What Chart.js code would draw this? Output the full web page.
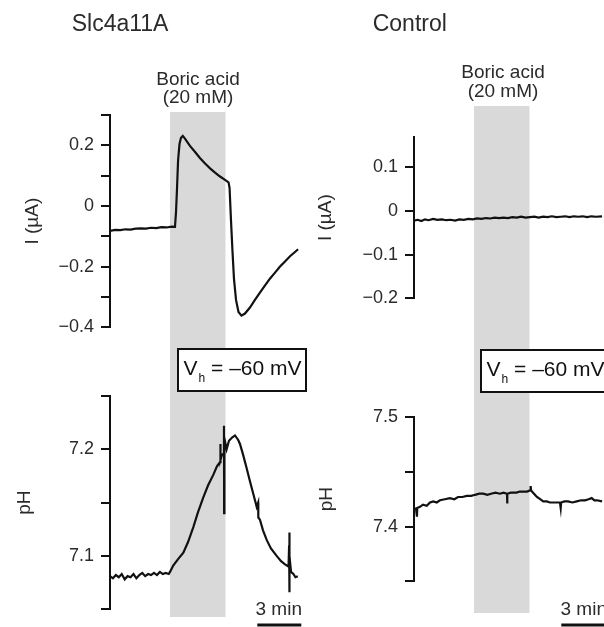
<!DOCTYPE html>
<html><head><meta charset="utf-8">
<script src="https://cdn.jsdelivr.net/npm/chart.js@4.4.1/dist/chart.umd.min.js"></script>
<style>
html,body{margin:0;padding:0;overflow:hidden;background:#fff;width:604px;height:627px;}
#fig{position:relative;width:604px;height:627px;overflow:hidden;font-family:'Liberation Sans',Arial,sans-serif;color:#2b2b2b;}
canvas{position:absolute;}
.t{position:absolute;white-space:nowrap;line-height:1;}
.c{text-align:center;width:140px;}
.box{position:absolute;box-sizing:border-box;border:2.5px solid #111;background:#fff;width:130px;height:44px;}
</style></head><body>
<div id="fig">
<canvas id="aTop" width="310" height="345" style="left:0;top:0"></canvas>
<canvas id="aBot" width="310" height="282" style="left:0;top:345px"></canvas>
<canvas id="bTop" width="310" height="345" style="left:300px;top:0"></canvas>
<canvas id="bBot" width="310" height="282" style="left:300px;top:345px"></canvas>

<div class="t" style="left:71.7px;top:12.2px;font-size:23px">Slc4a11A</div>
<div class="t" style="left:372.7px;top:12.2px;font-size:23px">Control</div>

<div class="t c" style="left:128px;top:68.9px;font-size:19px">Boric acid</div>
<div class="t c" style="left:128px;top:86.6px;font-size:19px">(20 mM)</div>
<div class="t c" style="left:433px;top:62.4px;font-size:19px">Boric acid</div>
<div class="t c" style="left:433px;top:80.9px;font-size:19px">(20 mM)</div>

<div class="box" style="left:177px;top:348px"></div>
<div class="t" style="left:183.5px;top:357.2px;font-size:21px;color:#111">V<span style="font-size:12px;position:relative;top:7px;margin-left:1px">h</span> = –60 mV</div>
<div class="box" style="left:480px;top:349px"></div>
<div class="t" style="left:486.5px;top:358px;font-size:21px;color:#111">V<span style="font-size:12px;position:relative;top:7px;margin-left:1px">h</span> = –60 mV</div>

<div class="t" style="left:255.5px;top:598.9px;font-size:19px">3 min</div>
<div class="t" style="left:560.5px;top:598.9px;font-size:19px">3 min</div>
</div>
<script>
// ---- data (time in minutes) ----
const tMax = 13.1;
const boricAcid = [4.09, 7.87];          // application window (min)
const scaleBar = [10.04, 13.04];         // 3 min scale bar

// Slc4a11A current (µA)
const aCurT = [0,0.35,0.7,1.05,1.4,1.75,2.1,2.45,2.8,3.15,3.5,3.85,4.2,4.43,4.5,4.57,4.64,4.74,4.84,4.96,5.11,5.45,5.8,6.13,6.48,6.82,7.16,7.5,7.84,8.08,8.15,8.25,8.35,8.45,8.59,8.76,8.96,9.2,9.54,9.88,10.22,10.57,10.9,11.25,11.59,11.93,12.27,12.61,12.82];
const aCurI = [-0.082,-0.079,-0.080,-0.077,-0.078,-0.075,-0.074,-0.075,-0.072,-0.073,-0.070,-0.071,-0.068,-0.069,-0.02,0.06,0.15,0.205,0.225,0.231,0.222,0.198,0.178,0.158,0.14,0.124,0.11,0.097,0.086,0.078,0.06,-0.05,-0.15,-0.24,-0.31,-0.35,-0.362,-0.355,-0.335,-0.31,-0.286,-0.262,-0.24,-0.22,-0.2,-0.183,-0.166,-0.152,-0.143];

// Control current (µA)
const bCurT = [0,0.25,0.5,0.75,1.0,1.3,1.6,1.9,2.2,2.5,2.8,3.1,3.4,3.7,4.0,4.3,4.6,4.9,5.2,5.5,5.8,6.1,6.4,6.7,7.0,7.3,7.6,7.9,8.2,8.5,8.8,9.1,9.4,9.7,10.0,10.3,10.6,10.9,11.2,11.5,11.8,12.1,12.4,12.82];
const bCurI = [-0.022,-0.020,-0.023,-0.019,-0.021,-0.018,-0.020,-0.019,-0.021,-0.020,-0.022,-0.019,-0.020,-0.018,-0.019,-0.017,-0.018,-0.016,-0.017,-0.015,-0.016,-0.015,-0.016,-0.014,-0.015,-0.013,-0.015,-0.014,-0.013,-0.015,-0.013,-0.014,-0.012,-0.014,-0.013,-0.012,-0.014,-0.012,-0.013,-0.012,-0.014,-0.012,-0.013,-0.012];

// Slc4a11A pH
const aPhT = [0,0.2,0.4,0.6,0.8,1.0,1.2,1.4,1.6,1.8,2.0,2.2,2.4,2.6,2.8,3.0,3.2,3.4,3.6,3.8,4.0,4.09,4.31,4.64,5.0,5.32,5.68,6.0,6.36,6.68,7.04,7.29,7.5,7.52,7.54,7.63,7.76,7.77,7.78,7.8,7.95,8.11,8.32,8.52,8.73,8.86,9.07,9.32,9.54,9.77,10.0,10.1,10.11,10.22,10.43,10.68,10.97,11.36,11.66,11.93,12.17,12.21,12.22,12.23,12.25,12.34,12.5,12.64,12.8];
const aPhV = [7.081,7.079,7.082,7.080,7.083,7.078,7.081,7.080,7.083,7.079,7.082,7.084,7.081,7.083,7.082,7.084,7.082,7.085,7.083,7.084,7.083,7.085,7.091,7.097,7.103,7.113,7.127,7.141,7.155,7.166,7.176,7.184,7.188,7.205,7.19,7.195,7.196,7.222,7.14,7.21,7.2,7.208,7.211,7.213,7.209,7.205,7.195,7.182,7.17,7.158,7.146,7.15,7.136,7.134,7.124,7.115,7.107,7.1,7.095,7.092,7.09,7.11,7.122,7.066,7.1,7.085,7.083,7.08,7.081];

// Control pH
const bPhT = [0,0.14,0.2,0.22,0.41,0.61,0.87,1.09,1.32,1.55,1.77,2.1,2.45,2.75,3.0,3.3,3.59,3.9,4.16,4.45,4.72,5.0,5.25,5.55,5.86,6.1,6.34,6.35,6.37,6.6,7.0,7.2,7.43,7.7,7.91,7.95,7.98,8.18,8.38,8.6,8.81,9.05,9.27,9.6,9.95,10.0,10.03,10.25,10.5,10.8,11.09,11.4,11.66,11.9,12.11,12.3,12.47,12.82];
const bPhV = [7.417,7.416,7.409,7.417,7.418,7.42,7.419,7.422,7.423,7.422,7.424,7.425,7.426,7.425,7.427,7.427,7.428,7.428,7.429,7.43,7.43,7.429,7.43,7.431,7.43,7.431,7.43,7.421,7.43,7.431,7.431,7.432,7.432,7.432,7.433,7.437,7.433,7.43,7.427,7.425,7.423,7.423,7.422,7.422,7.422,7.417,7.422,7.423,7.423,7.422,7.423,7.424,7.424,7.425,7.426,7.424,7.424,7.423];

// tick values and labels
const aCurTicks  = [-0.4,-0.3,-0.2,-0.1,0,0.1,0.2,0.3];
const aCurLabels = ['\u22120.4','','\u22120.2','','0','','0.2',''];
const bCurTicks  = [-0.2,-0.1,0,0.1];
const bCurLabels = ['\u22120.2','\u22120.1','0','0.1'];
const aPhTicks   = [7.05,7.1,7.15,7.2,7.25];
const aPhLabels  = ['','7.1','','7.2',''];
const bPhTicks   = [7.35,7.4,7.45,7.5];
const bPhLabels  = ['','7.4','','7.5'];

Chart.defaults.font.family = "'Liberation Sans', Arial, sans-serif";
Chart.defaults.color = '#2b2b2b';

const bandPlugin = {
  id: 'band',
  beforeDraw(chart, args, o) {
    const x = chart.scales.x, ctx = chart.ctx;
    const x1 = x.getPixelForValue(o.from), x2 = x.getPixelForValue(o.to);
    ctx.save(); ctx.fillStyle = o.color;
    ctx.fillRect(x1, o.top, x2 - x1, o.bottom - o.top);
    ctx.restore();
  }
};
const barPlugin = {
  id: 'scaleBar',
  afterDraw(chart, args, o) {
    if (!o || !o.show) return;
    const x = chart.scales.x, ctx = chart.ctx;
    ctx.save(); ctx.strokeStyle = '#111'; ctx.lineWidth = 3;
    ctx.beginPath();
    ctx.moveTo(x.getPixelForValue(o.from), o.y);
    ctx.lineTo(x.getPixelForValue(o.to), o.y);
    ctx.stroke(); ctx.restore();
  }
};

function makePanel(id, tArr, vArr, yr, ticks, labels, title, g, band, bar) {
  return new Chart(document.getElementById(id), {
    type: 'line',
    data: { datasets: [{
      data: tArr.map((t, i) => ({x: t, y: vArr[i]})),
      borderColor: '#111', borderWidth: 2.2, pointRadius: 0, tension: 0, fill: false
    }]},
    options: {
      responsive: false, animation: false, devicePixelRatio: 1,
      layout: { autoPadding: false, padding: { left: g.boxLeft, right: g.cw - g.areaRight, top: g.areaTop, bottom: g.ch - g.areaBottom } },
      plugins: {
        legend: { display: false }, tooltip: { enabled: false },
        band: { from: boricAcid[0], to: boricAcid[1], top: band[0], bottom: band[1], color: '#d9d9d9' },
        scaleBar: bar
      },
      scales: {
        x: { type: 'linear', display: false, min: 0, max: tMax },
        y: {
          type: 'linear', min: yr[0], max: yr[1],
          afterFit(s) { s.width = g.areaLeft - g.boxLeft; },
          afterBuildTicks(s) { s.ticks = ticks.map(v => ({value: v})); },
          ticks: { callback: (v, i) => labels[i], font: { size: 18 }, color: '#2b2b2b', padding: 7, autoSkip: false },
          grid: { drawOnChartArea: false, drawTicks: true, tickLength: 9, color: '#111', lineWidth: 2 },
          border: { display: true, color: '#111', width: 2 },
          title: { display: true, text: title, font: { size: 19 }, color: '#2b2b2b', padding: 0 }
        }
      }
    },
    plugins: [bandPlugin, barPlugin]
  });
}

const xRight = (left) => left + tMax * 14.67;

makePanel('aTop', aCurT, aCurI, [-0.4, 0.3], aCurTicks, aCurLabels, 'I (\u00b5A)',
  { boxLeft: 21, areaLeft: 110, areaRight: xRight(110), areaTop: 115, areaBottom: 332.5, cw: 310, ch: 345 },
  [112, 345], { show: false });
makePanel('aBot', aPhT, aPhV, [7.05, 7.25], aPhTicks, aPhLabels, 'pH',
  { boxLeft: 13, areaLeft: 110, areaRight: xRight(110), areaTop: 51, areaBottom: 270, cw: 310, ch: 282 },
  [0, 272], { show: true, from: scaleBar[0], to: scaleBar[1], y: 280 });
makePanel('bTop', bCurT, bCurI, [-0.2, 0.17], bCurTicks, bCurLabels, 'I (\u00b5A)',
  { boxLeft: 14, areaLeft: 114, areaRight: xRight(114), areaTop: 137, areaBottom: 298.2, cw: 310, ch: 345 },
  [106, 345], { show: false });
makePanel('bBot', bPhT, bPhV, [7.35, 7.5], bPhTicks, bPhLabels, 'pH',
  { boxLeft: 15, areaLeft: 114, areaRight: xRight(114), areaTop: 72, areaBottom: 236.4, cw: 310, ch: 282 },
  [0, 268], { show: true, from: scaleBar[0], to: scaleBar[1], y: 280 });
</script>
</body></html>
